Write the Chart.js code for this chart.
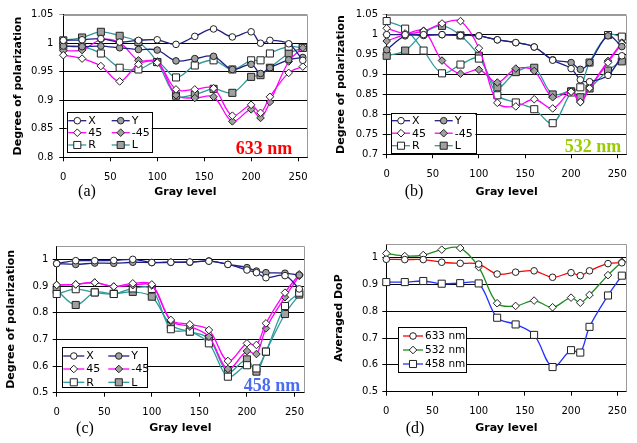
<!DOCTYPE html>
<html lang="en">
<head>
<meta charset="UTF-8">
<title>Degree of polarization vs gray level</title>
<script src="https://cdn.jsdelivr.net/npm/chart.js"></script>
<style>
  body { margin: 0; background: #fff; }
  #page { position: relative; width: 637px; height: 443px; overflow: hidden; background: #fff; }
  #page canvas { position: absolute; }
  .tag { position: absolute; font-family: "Liberation Serif", "DejaVu Serif", serif; line-height: 1; transform: translate(-50%, -50%); white-space: nowrap; }
  .panel { font-size: 16px; color: #000; }
  .wave { font-size: 18px; font-weight: bold; }
</style>
</head>
<body>
<div id="page">
  <canvas id="chart-a" width="318" height="205" style="left:0;top:0;width:318px;height:205px"></canvas>
  <canvas id="chart-b" width="319" height="205" style="left:318px;top:0;width:319px;height:205px"></canvas>
  <canvas id="chart-c" width="318" height="223" style="left:0;top:220px;width:318px;height:223px"></canvas>
  <canvas id="chart-d" width="319" height="223" style="left:318px;top:220px;width:319px;height:223px"></canvas>
  <div class="tag panel" style="left:87px;top:191px">(a)</div>
  <div class="tag panel" style="left:414px;top:191px">(b)</div>
  <div class="tag panel" style="left:85px;top:428px">(c)</div>
  <div class="tag panel" style="left:415px;top:428px">(d)</div>
  <div class="tag wave" style="left:264px;top:148px;color:#ff0000">633 nm</div>
  <div class="tag wave" style="left:593px;top:146px;color:#99cc00">532 nm</div>
  <div class="tag wave" style="left:272px;top:385px;color:#4a6cf0">458 nm</div>
</div>
<script>
// gray levels shared by every panel
const grayLevels = [0, 20, 40, 60, 80, 100, 120, 140, 160, 180, 200, 210, 220, 240, 255];

// (a) 633 nm
const a633X  = [1.005, 1.006, 1.008, 1.002, 1.005, 1.006, 0.998, 1.012, 1.025, 1.011, 1.020, 1.000, 1.005, 0.999, 0.970];
const a633Y  = [0.995, 0.994, 0.995, 0.992, 0.989, 0.988, 0.969, 0.973, 0.977, 0.954, 0.963, 0.947, 0.957, 0.971, 0.975];
const a633P45 = [0.979, 0.973, 0.960, 0.933, 0.963, 0.966, 0.919, 0.919, 0.921, 0.873, 0.892, 0.878, 0.906, 0.948, 0.959];
const a633M45 = [0.987, 0.988, 1.006, 1.001, 0.970, 0.968, 0.909, 0.904, 0.906, 0.863, 0.884, 0.869, 0.897, 0.968, 0.992];
const a633R  = [0.995, 0.994, 0.982, 0.957, 0.954, 0.967, 0.940, 0.961, 0.970, 0.954, 0.970, 0.970, 0.982, 0.994, 0.992];
const a633L  = [1.005, 1.010, 1.020, 1.013, 1.002, 0.967, 0.908, 0.910, 0.920, 0.913, 0.941, 0.944, 0.957, 0.982, 0.992];

// (b) 532 nm
const b532X  = [1.000, 1.000, 1.000, 1.000, 0.998, 0.997, 0.987, 0.980, 0.969, 0.936, 0.915, 0.887, 0.882, 0.898, 0.947];
const b532Y  = [0.962, 0.997, 0.998, 1.000, 0.998, 0.997, 0.987, 0.980, 0.969, 0.937, 0.930, 0.913, 0.930, 0.997, 0.970];
const b532P45 = [1.016, 1.003, 1.009, 1.028, 1.034, 0.966, 0.829, 0.820, 0.838, 0.815, 0.857, 0.831, 0.866, 0.930, 0.978];
const b532M45 = [0.984, 1.000, 1.010, 0.935, 0.902, 0.912, 0.880, 0.915, 0.909, 0.843, 0.857, 0.831, 0.866, 0.934, 0.980];
const b532R  = [1.034, 1.015, 0.960, 0.903, 0.925, 0.940, 0.848, 0.830, 0.813, 0.778, 0.855, 0.868, 0.930, 0.999, 0.995];
const b532L  = [0.947, 0.960, 1.004, 1.022, 0.998, 0.947, 0.868, 0.906, 0.917, 0.850, 0.858, 0.843, 0.865, 0.910, 0.933];

// (c) 458 nm
const c458X  = [0.984, 0.995, 0.995, 0.996, 1.000, 0.988, 0.989, 0.990, 0.993, 0.981, 0.960, 0.950, 0.931, 0.939, 0.889];
const c458Y  = [0.984, 0.981, 0.986, 0.985, 0.989, 0.988, 0.989, 0.989, 0.994, 0.981, 0.969, 0.956, 0.950, 0.948, 0.941];
const c458P45 = [0.904, 0.906, 0.913, 0.898, 0.910, 0.906, 0.773, 0.756, 0.735, 0.619, 0.685, 0.679, 0.760, 0.875, 0.944];
const c458M45 = [0.904, 0.906, 0.913, 0.898, 0.903, 0.902, 0.769, 0.748, 0.710, 0.589, 0.656, 0.645, 0.741, 0.858, 0.938];
const c458R  = [0.870, 0.888, 0.876, 0.870, 0.891, 0.889, 0.738, 0.729, 0.685, 0.560, 0.603, 0.591, 0.654, 0.825, 0.875];
const c458L  = [0.885, 0.829, 0.876, 0.871, 0.878, 0.860, 0.754, 0.729, 0.703, 0.578, 0.625, 0.579, 0.654, 0.795, 0.868];

// (d) averaged DoP
const avg633 = [0.994, 0.993, 0.993, 0.983, 0.979, 0.976, 0.939, 0.946, 0.951, 0.927, 0.944, 0.933, 0.951, 0.978, 0.981];
const avg532 = [1.016, 1.006, 1.010, 1.030, 1.036, 0.965, 0.830, 0.820, 0.840, 0.815, 0.851, 0.832, 0.861, 0.935, 0.985];
const avg458 = [0.909, 0.909, 0.913, 0.903, 0.905, 0.904, 0.776, 0.751, 0.712, 0.592, 0.655, 0.646, 0.742, 0.859, 0.933];

const tickFont = { family: "DejaVu Sans", size: 10 };
const titleFont = { family: "DejaVu Sans", size: 11, weight: "bold" };
const NAVY = "#1f1f86", MAGENTA = "#ff00ff", TEAL = "#2f9a9a";
const OPEN = "#ffffff", FILLED = "#a0a0a0";

function series(label, values, color, shape, fill) {
  const radius = shape === "rect" ? 5 : shape === "rectRot" ? 3.8 : 3.3;
  return {
    label: label,
    data: grayLevels.map((g, i) => ({ x: g, y: values[i] })),
    borderColor: color,
    borderWidth: 1.3,
    tension: 0.35,
    fill: false,
    clip: false,
    pointStyle: shape,
    pointRadius: radius,
    pointBackgroundColor: fill,
    pointBorderColor: "#222",
    pointBorderWidth: 1
  };
}

function marker(ctx, shape, r, x, y) {
  ctx.beginPath();
  if (shape === "rect") {
    const s = r * Math.SQRT1_2;
    ctx.rect(x - s, y - s, 2 * s, 2 * s);
  } else if (shape === "rectRot") {
    ctx.moveTo(x - r, y); ctx.lineTo(x, y - r); ctx.lineTo(x + r, y); ctx.lineTo(x, y + r);
    ctx.closePath();
  } else {
    ctx.arc(x, y, r, 0, Math.PI * 2);
  }
  ctx.fill();
  ctx.stroke();
}

// boxed legend drawn inside the plot, Excel style
const boxLegend = {
  id: "boxLegend",
  afterDraw(chart, args, opts) {
    const ctx = chart.ctx;
    ctx.save();
    ctx.fillStyle = "#fff";
    ctx.fillRect(opts.x, opts.y, opts.w, opts.h);
    ctx.strokeStyle = "#000";
    ctx.lineWidth = 1;
    ctx.strokeRect(Math.round(opts.x) + 0.5, Math.round(opts.y) + 0.5, Math.round(opts.w), Math.round(opts.h));
    ctx.font = opts.font;
    ctx.textBaseline = "middle";
    chart.data.datasets.forEach((ds, i) => {
      const col = i % opts.cols.length;
      const row = Math.floor(i / opts.cols.length);
      const x0 = opts.cols[col], y = opts.rows[row];
      ctx.strokeStyle = ds.borderColor;
      ctx.lineWidth = ds.borderWidth;
      ctx.beginPath();
      ctx.moveTo(x0, y);
      ctx.lineTo(x0 + opts.lineLen, y);
      ctx.stroke();
      ctx.fillStyle = ds.pointBackgroundColor;
      ctx.strokeStyle = ds.pointBorderColor;
      ctx.lineWidth = ds.pointBorderWidth;
      marker(ctx, ds.pointStyle, ds.pointRadius, x0 + opts.lineLen / 2, y);
      ctx.fillStyle = "#000";
      ctx.fillText(ds.label, x0 + opts.lineLen + 2, y + 0.5);
    });
    ctx.restore();
  }
};

// gray top and right border of the plot area
const plotFrame = {
  id: "plotFrame",
  beforeDatasetsDraw(chart) {
    const { ctx, chartArea: a } = chart;
    ctx.save();
    ctx.strokeStyle = "#9a9a9a";
    ctx.lineWidth = 1;
    ctx.beginPath();
    ctx.moveTo(a.left, Math.round(a.top) + 0.5);
    ctx.lineTo(Math.round(a.right) + 0.5, Math.round(a.top) + 0.5);
    ctx.lineTo(Math.round(a.right) + 0.5, a.bottom);
    ctx.stroke();
    ctx.restore();
  }
};

function makePanel(id, datasets, p) {
  return new Chart(document.getElementById(id), {
    type: "line",
    data: { datasets: datasets },
    plugins: [plotFrame, boxLegend],
    options: {
      responsive: false,
      animation: false,
      events: [],
      layout: { padding: { top: p.padTop, right: p.padRight, left: 0, bottom: 0 } },
      plugins: {
        legend: { display: false },
        tooltip: { enabled: false },
        boxLegend: p.legend
      },
      scales: {
        x: {
          type: "linear", min: 0, max: 260,
          ticks: { stepSize: 50, includeBounds: false, font: tickFont, color: "#000", padding: 10, maxRotation: 0 },
          grid: { drawOnChartArea: false, tickLength: 4, color: "#000" },
          border: { color: "#000" },
          title: { display: true, text: "Gray level", font: titleFont, color: "#000", padding: { top: 0, bottom: p.xTitlePad } },
          afterFit: s => { s.height = p.xHeight; }
        },
        y: {
          min: p.yMin, max: p.yMax,
          ticks: {
            stepSize: p.yStep, includeBounds: false, font: tickFont, color: "#000", padding: p.yTickPad,
            callback: v => String(+v.toFixed(2))
          },
          grid: {
            tickLength: 4,
            color: c => (c.tick && c.tick.value > p.yMax - 1e-6 ? "#9a9a9a" : "#000")
          },
          border: { color: "#000" },
          title: { display: true, text: p.yTitle, font: titleFont, color: "#000", padding: { top: p.yTitlePad, bottom: 0 } },
          afterFit: s => { s.width = p.yWidth; }
        }
      }
    }
  });
}

const legendFont = "11px 'DejaVu Sans'";

makePanel("chart-a", [
  series("X", a633X, NAVY, "circle", OPEN),
  series("Y", a633Y, NAVY, "circle", FILLED),
  series("45", a633P45, MAGENTA, "rectRot", OPEN),
  series("-45", a633M45, MAGENTA, "rectRot", FILLED),
  series("R", a633R, TEAL, "rect", OPEN),
  series("L", a633L, TEAL, "rect", FILLED)
], {
  yMin: 0.8, yMax: 1.05, yStep: 0.05, yTitle: "Degree of polarization",
  padTop: 14.7, padRight: 9.5, yWidth: 63.3, xHeight: 47.7,
  yTitlePad: 11.4, xTitlePad: 6.4, yTickPad: 6,
  legend: { x: 66.7, y: 111.7, w: 85, h: 40, cols: [68.3, 111.7], rows: [120.7, 132.7, 145], lineLen: 18, font: legendFont }
});

makePanel("chart-b", [
  series("X", b532X, NAVY, "circle", OPEN),
  series("Y", b532Y, NAVY, "circle", FILLED),
  series("45", b532P45, MAGENTA, "rectRot", OPEN),
  series("-45", b532M45, MAGENTA, "rectRot", FILLED),
  series("R", b532R, TEAL, "rect", OPEN),
  series("L", b532L, TEAL, "rect", FILLED)
], {
  yMin: 0.7, yMax: 1.05, yStep: 0.05, yTitle: "Degree of polarization",
  padTop: 14.7, padRight: 5.2, yWidth: 68.7, xHeight: 50.7,
  yTitlePad: 16.9, xTitlePad: 6.7, yTickPad: 4.7,
  legend: { x: 72.7, y: 113.3, w: 84.7, h: 40, cols: [74, 116.7], rows: [120.7, 133.2, 145.7], lineLen: 18, font: legendFont }
});

makePanel("chart-c", [
  series("X", c458X, NAVY, "circle", OPEN),
  series("Y", c458Y, NAVY, "circle", FILLED),
  series("45", c458P45, MAGENTA, "rectRot", OPEN),
  series("-45", c458M45, MAGENTA, "rectRot", FILLED),
  series("R", c458R, TEAL, "rect", OPEN),
  series("L", c458L, TEAL, "rect", FILLED)
], {
  yMin: 0.5, yMax: 1.05, yStep: 0.1, yTitle: "Degree of polarization",
  padTop: 26, padRight: 14, yWidth: 56.7, xHeight: 50.3,
  yTitlePad: 4.4, xTitlePad: 8.4, yTickPad: 4.4,
  legend: { x: 61.7, y: 126.7, w: 85, h: 40, cols: [63.3, 108.3], rows: [136, 149, 162.3], lineLen: 21, font: legendFont }
});

makePanel("chart-d", [
  series("633 nm", avg633, "#ff0000", "circle", OPEN),
  series("532 nm", avg532, "#1e8c1e", "rectRot", OPEN),
  series("458 nm", avg458, "#2233ff", "rect", OPEN)
], {
  yMin: 0.5, yMax: 1.05, yStep: 0.1, yTitle: "Averaged DoP",
  padTop: 24.3, padRight: 1.4, yWidth: 68.3, xHeight: 51.3,
  yTitlePad: 14.4, xTitlePad: 8.4, yTickPad: 4.3,
  legend: { x: 80, y: 106.7, w: 68.3, h: 45, cols: [85], rows: [116, 130, 144], lineLen: 20, font: "10.5px 'DejaVu Sans'" }
});
</script>
</body>
</html>
